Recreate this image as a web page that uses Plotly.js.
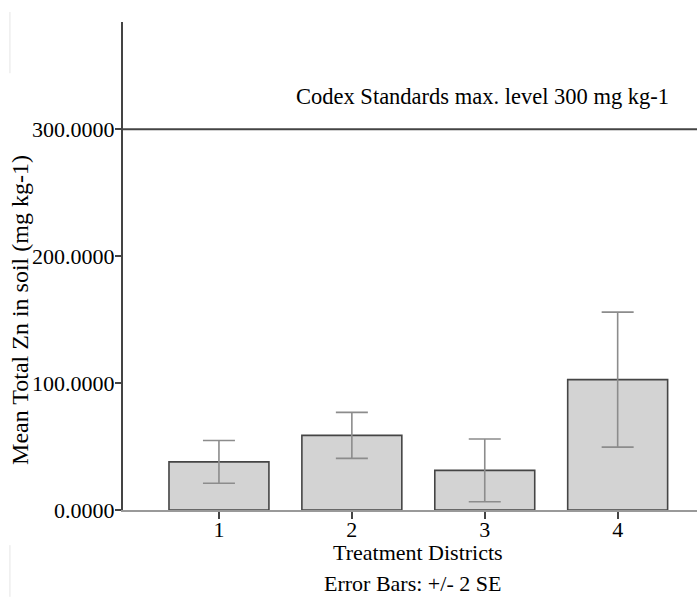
<!DOCTYPE html>
<html>
<head>
<meta charset="utf-8">
<script src="https://cdn.plot.ly/plotly-3.0.1.min.js"></script>
<style>html,body{margin:0;padding:0;background:#fff;}#chart{width:697px;height:598px;}</style>
</head>
<body>
<div id="chart"></div>
<script>
// Data
const districts = [1, 2, 3, 4];
const districtLabels = ["1", "2", "3", "4"];
const meanZn = [37.9, 58.8, 31.2, 102.7];
const twoSE = [16.8, 18.1, 24.7, 53.2];
const codexLimit = 300;
const yTicks = [0, 100, 200, 300];

const FONT = "Liberation Serif";

const trace = {
  type: "bar",
  x: districts,
  y: meanZn,
  width: 0.752,
  marker: { color: "#d3d3d3", line: { color: "#454545", width: 1.6 } },
  error_y: { type: "data", array: twoSE, visible: true, color: "#8c8c8c", thickness: 1.6, width: 16 },
  hoverinfo: "none"
};

const layout = {
  width: 697, height: 598,
  margin: { l: 123, r: 0, t: 22, b: 88, pad: 0 },
  paper_bgcolor: "#fff", plot_bgcolor: "#fff",
  showlegend: false,
  font: { family: FONT, size: 22, color: "#000" },
  xaxis: {
    range: [0.278, 4.597],
    tickvals: districts, ticktext: districtLabels,
    ticks: "outside", ticklen: 7, tickwidth: 2, tickcolor: "#444",
    ticklabelstandoff: -8,
    showline: true, linecolor: "#999", linewidth: 1.5,
    showgrid: false, zeroline: false,
    tickfont: { family: FONT, size: 22, color: "#000" }
  },
  yaxis: {
    range: [0, 384.4],
    tickvals: yTicks, tickformat: ".4f",
    ticks: "outside", ticklen: 6, tickwidth: 1.5, tickcolor: "#444",
    ticklabelstandoff: -4,
    showline: true, linecolor: "#444", linewidth: 2,
    showgrid: false, zeroline: false,
    tickfont: { family: FONT, size: 22, color: "#000" }
  },
  shapes: [
    { type: "line", xref: "paper", yref: "y", x0: 0, x1: 1, y0: codexLimit, y1: codexLimit,
      line: { color: "#444", width: 2 } },
    { type: "line", xref: "paper", yref: "paper", x0: -0.197, x1: -0.197, y0: 0.895, y1: 1.0205,
      line: { color: "#e6e6e6", width: 1 } },
    { type: "line", xref: "paper", yref: "paper", x0: -0.197, x1: -0.197, y0: -0.072, y1: -0.178,
      line: { color: "#e6e6e6", width: 1 } }
  ],
  annotations: [
    { text: "Codex Standards max. level " + codexLimit + " mg kg-1", xref: "paper", yref: "y",
      x: 0.955, y: codexLimit, xanchor: "right", yanchor: "bottom", yshift: 18, showarrow: false,
      font: { family: FONT, size: 22.5, color: "#000" } },
    { text: "Mean Total Zn in soil (mg kg-1)", xref: "paper", yref: "paper",
      x: -0.1794, y: 0.41, textangle: -90, xanchor: "center", yanchor: "middle", showarrow: false,
      font: { family: FONT, size: 24, color: "#000" } },
    { text: "Treatment Districts", xref: "paper", yref: "paper",
      x: 0.5145, y: -0.0881, xanchor: "center", yanchor: "middle", showarrow: false,
      font: { family: FONT, size: 22, color: "#000" } },
    { text: "Error Bars: +/- 2 SE", xref: "paper", yref: "paper",
      x: 0.5052, y: -0.1496, xanchor: "center", yanchor: "middle", showarrow: false,
      font: { family: FONT, size: 22, color: "#000" } }
  ]
};

Plotly.newPlot("chart", [trace], layout, { displayModeBar: false, staticPlot: true });
</script>
</body>
</html>
